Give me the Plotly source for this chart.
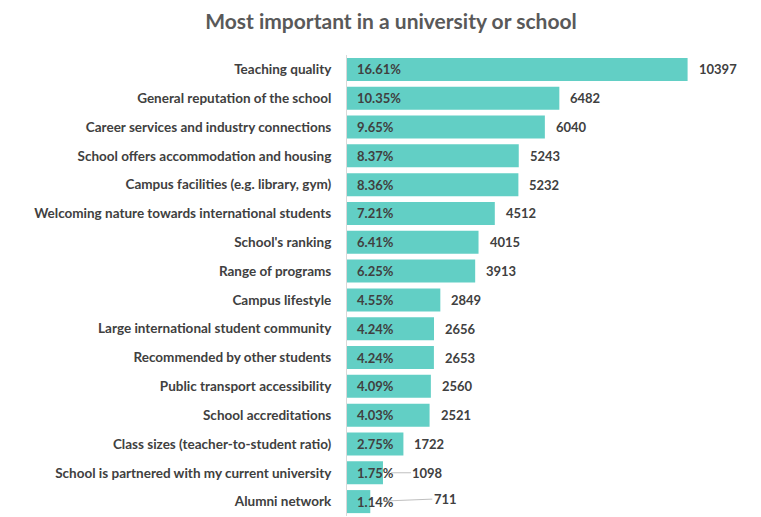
import plotly.graph_objects as go

categories = [
    "Teaching quality",
    "General reputation of the school",
    "Career services and industry connections",
    "School offers accommodation and housing",
    "Campus facilities (e.g. library, gym)",
    "Welcoming nature towards international students",
    "School's ranking",
    "Range of programs",
    "Campus lifestyle",
    "Large international student community",
    "Recommended by other students",
    "Public transport accessibility",
    "School accreditations",
    "Class sizes (teacher-to-student ratio)",
    "School is partnered with my current university",
    "Alumni network",
]
counts = [10397, 6482, 6040, 5243, 5232, 4512, 4015, 3913, 2849, 2656, 2653, 2560, 2521, 1722, 1098, 711]
percents = ["16.61%", "10.35%", "9.65%", "8.37%", "8.36%", "7.21%", "6.41%", "6.25%",
            "4.55%", "4.24%", "4.24%", "4.09%", "4.03%", "2.75%", "1.75%", "1.14%"]

BAR = "#62CFC5"
TXT = "#404040"
FONT = "Lato"

fig = go.Figure(go.Bar(
    x=counts, y=categories, orientation="h",
    marker=dict(color=BAR, line=dict(width=0)),
    hoverinfo="skip",
))

annotations = []
# leader-line offsets for small bars (pixels)
leader = {"School is partnered with my current university": (45, 0, 8),
          "Alumni network": (75, -3, 14)}
for cat, val, pct in zip(categories, counts, percents):
    annotations.append(dict(x=0, y=cat, xref="x", yref="y", text=pct, showarrow=False,
                            xanchor="left", xshift=8, yshift=0,
                            font=dict(family=FONT, size=13, color=TXT, weight="bold")))
    if cat in leader:
        ax, ay, so = leader[cat]
        annotations.append(dict(x=val, y=cat, xref="x", yref="y", text=str(val), showarrow=True,
                                arrowhead=0, arrowwidth=1, arrowcolor="#BFBFBF",
                                ax=ax, ay=ay, standoff=so,
                                font=dict(family=FONT, size=13, color=TXT, weight="bold")))
    else:
        annotations.append(dict(x=val, y=cat, xref="x", yref="y", text=str(val), showarrow=False,
                                xanchor="left", xshift=9,
                                font=dict(family=FONT, size=13, color=TXT, weight="bold")))

fig.update_layout(
    width=753, height=509,
    margin=dict(l=339, r=34, t=47, b=1),
    paper_bgcolor="white", plot_bgcolor="white",
    title=dict(text="Most important in a university or school", x=0.5086, xanchor="center",
               y=0.9725, yanchor="middle",
               font=dict(family=FONT, size=21, color="#595959", weight="bold")),
    bargap=0.2,
    showlegend=False,
    xaxis=dict(range=[0, 11600], visible=False, fixedrange=True),
    yaxis=dict(autorange="reversed", showline=True, linecolor="#D9D9D9", linewidth=1,
               ticks="", showgrid=False, ticklabelstandoff=12,
               tickfont=dict(family=FONT, size=13.5, color=TXT, weight="bold")),
    annotations=annotations,
)

fig.write_html("out.html")
